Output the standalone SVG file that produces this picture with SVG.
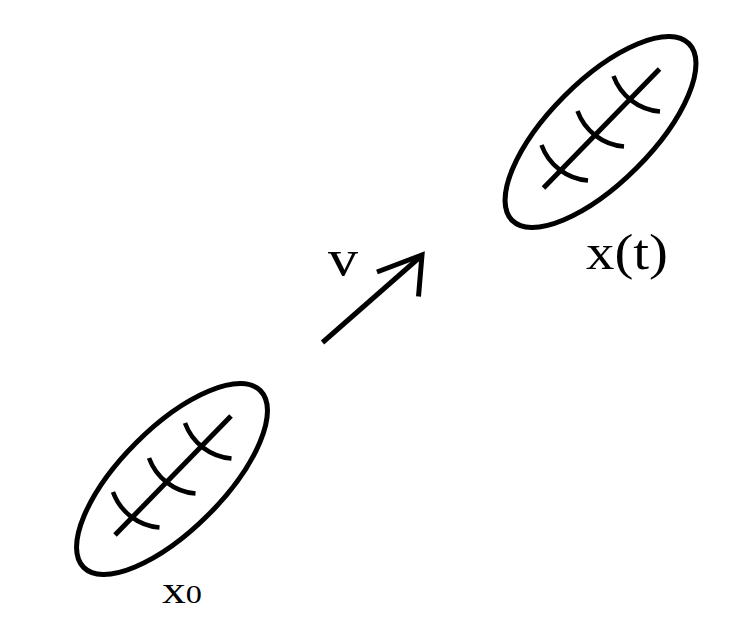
<svg xmlns="http://www.w3.org/2000/svg" width="751" height="637" viewBox="0 0 751 637">
<style>
.shape{fill:none;stroke:#000;stroke-width:5}
.arc{fill:none;stroke:#000;stroke-width:4.5}
.lbl{font-family:"Liberation Serif","Times New Roman",serif;fill:#000}
</style>
<defs>
<g id="body">
<ellipse cx="0" cy="0" rx="125" ry="51" transform="rotate(-45)" class="shape"/>
<line x1="-57" y1="56" x2="59" y2="-63" class="shape" stroke-width="4.7"/>
<path d="M-59,13 a54,54 0 0 0 46.5,35.5" class="arc"/>
<path d="M-23,-21 a54,54 0 0 0 46.5,35.5" class="arc"/>
<path d="M13,-56 a54,54 0 0 0 46.5,35.5" class="arc"/>
</g>
</defs>
<rect width="751" height="637" fill="#fff"/>
<g id="node-x0">
<use href="#body" x="172" y="479"/>
<text class="lbl" x="162" y="603" textLength="40" lengthAdjust="spacingAndGlyphs"><tspan font-size="37">x</tspan><tspan font-size="25">0</tspan></text>
</g>
<g id="node-xt">
<use href="#body" x="600.5" y="132"/>
<text class="lbl" x="586" y="268.5" font-size="51" textLength="82" lengthAdjust="spacingAndGlyphs">x(t)</text>
</g>
<g id="connectors">
<line x1="322.5" y1="342.5" x2="420" y2="257" class="shape" stroke-width="4.8"/>
<polyline points="377,272 422,255 418.5,296.5" class="shape" stroke-width="4.8" stroke-linejoin="miter"/>
<text class="lbl" x="328" y="275" font-size="51" textLength="30" lengthAdjust="spacingAndGlyphs">v</text>
</g>
</svg>
